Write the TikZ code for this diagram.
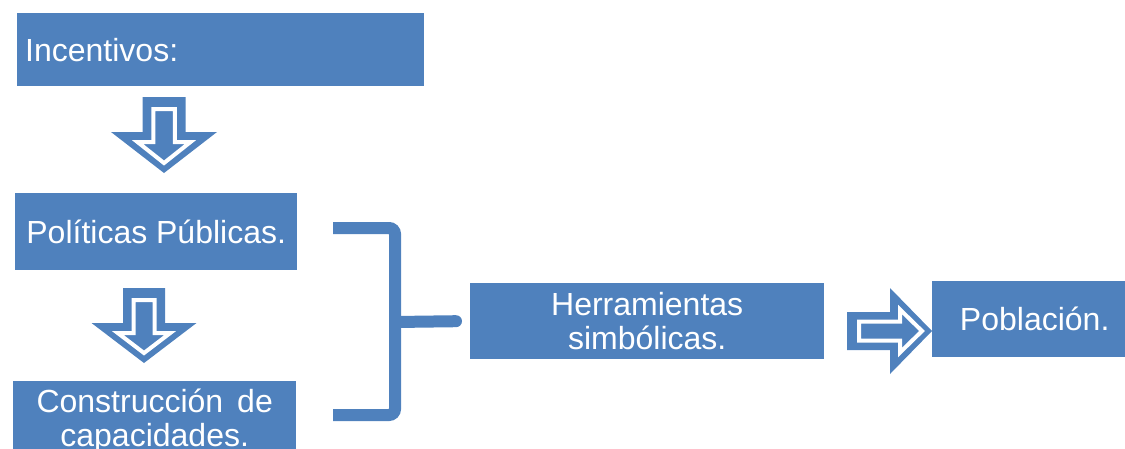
\documentclass[tikz,border=0pt]{standalone}
\usepackage{fontspec}
\setmainfont{Liberation Sans}
\usepackage{tikz}
\usetikzlibrary{positioning}
\usetikzlibrary{calc}
\definecolor{baseblue}{HTML}{4F81BD}

% striped block arrow along +x: #1 options, #2 shaft half width, #3 shaft length, #4 head half width, #5 head length
\newcommand{\stripedarrow}[5]{%
    \begin{scope}[#1]
        \fill[baseblue] (0,-#2) -- (#3,-#2) -- (#3,-#4) -- ({#3+#5},0) -- (#3,#4) -- (#3,#2) -- (0,#2) -- cycle;
        \draw[white, line width=4pt, line join=miter] (12,{-#2/2}) -- ({#3+10},{-#2/2}) -- ({#3+10},{-#4/2}) -- ({#3+#5-10},0) -- ({#3+10},{#4/2}) -- ({#3+10},{#2/2}) -- (12,{#2/2}) -- cycle;
    \end{scope}}

\begin{document}
\begin{tikzpicture}[x=1pt, y=-1pt]
        \useasboundingbox (0,0) rectangle (1125,448);
        \begin{scope}[every node/.style={
            fill=baseblue,
            text=white,
            inner sep=0pt,
            anchor=north west,
            font=\fontsize{32}{34}\selectfont}]
            \node[minimum width=407pt, minimum height=73pt, inner xsep=8pt, text width=391pt, align=left] (inc) at (17,13) {Incentivos:};
            \node[minimum width=282pt, minimum height=77pt] (pol) at (15,193) {Políticas Públicas.};
            \node[minimum width=283pt, minimum height=80pt, align=center] (cap) at (13,381) {Construcción\hspace{14pt}de\\capacidades.};
            \node[minimum width=354pt, minimum height=76pt, align=center] (herr) at (470,283) {Herramientas\\simbólicas.};
            \node[minimum width=205pt, minimum height=76pt] (pob) at (932,281) {Población.};
        \end{scope}
        \stripedarrow{shift={(164,97)}, rotate=-90}{21.5}{35}{53}{41}
        \stripedarrow{shift={(144,288)}, rotate=-90}{21}{35}{52.5}{40}
        \stripedarrow{shift={(847,331)}}{19}{43}{43}{42}
        \draw[baseblue, line width=12pt, rounded corners=6pt] (333,228) -- (395,228) -- (395,415) -- (333,415);
        \draw[baseblue, line width=12pt, line cap=round] (395,322) -- ($(herr.west)+(-14,0)$);
    \end{tikzpicture}
\end{document}
